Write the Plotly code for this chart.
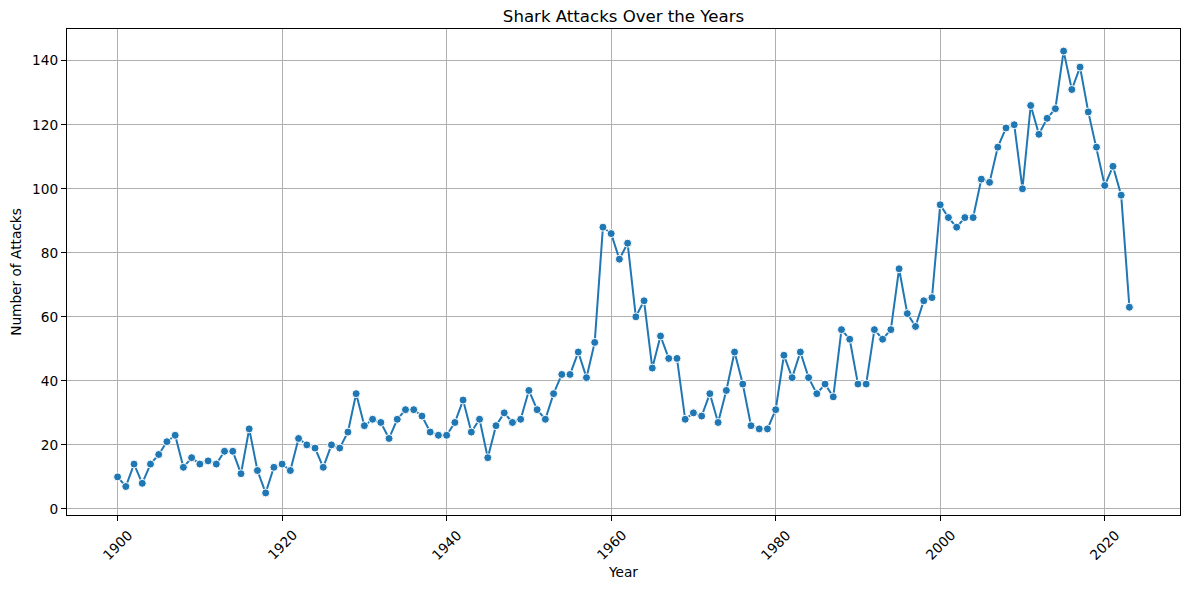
import plotly.graph_objects as go

# yearly shark attack counts
years = list(range(1900, 2024))
attacks = [
    10, 7, 14, 8, 14, 17, 21, 23, 13, 16,      # 1900s
    14, 15, 14, 18, 18, 11, 25, 12, 5, 13,     # 1910s
    14, 12, 22, 20, 19, 13, 20, 19, 24, 36,    # 1920s
    26, 28, 27, 22, 28, 31, 31, 29, 24, 23,    # 1930s
    23, 27, 34, 24, 28, 16, 26, 30, 27, 28,    # 1940s
    37, 31, 28, 36, 42, 42, 49, 41, 52, 88,    # 1950s
    86, 78, 83, 60, 65, 44, 54, 47, 47, 28,    # 1960s
    30, 29, 36, 27, 37, 49, 39, 26, 25, 25,    # 1970s
    31, 48, 41, 49, 41, 36, 39, 35, 56, 53,    # 1980s
    39, 39, 56, 53, 56, 75, 61, 57, 65, 66,    # 1990s
    95, 91, 88, 91, 91, 103, 102, 113, 119, 120,  # 2000s
    100, 126, 117, 122, 125, 143, 131, 138, 124, 113,  # 2010s
    101, 107, 98, 63,                          # 2020s
]
x_ticks = [1900, 1920, 1940, 1960, 1980, 2000, 2020]
y_ticks = [0, 20, 40, 60, 80, 100, 120, 140]

FONT = "DejaVu Sans"
BLUE = "#1f77b4"
TICK_SIZE = 13.7

# the page body adds 8px around the figure, so the figure is 16px smaller than the window
W, H = 1173, 573
L, R, T, B = 59, 1, 21, 66

fig = go.Figure()
fig.add_trace(go.Scatter(
    x=years,
    y=attacks,
    mode="lines+markers",
    line=dict(color=BLUE, width=2),
    marker=dict(symbol="circle", size=8, color=BLUE, line=dict(color="white", width=1)),
    showlegend=False,
))

axis_style = dict(
    showgrid=True,
    gridcolor="#b0b0b0",
    gridwidth=1.1,
    showline=True,
    linecolor="black",
    linewidth=1.1,
    mirror=True,
    ticks="outside",
    ticklen=5,
    tickwidth=1.1,
    tickcolor="black",
    zeroline=False,
    tickfont=dict(family=FONT, size=TICK_SIZE, color="black"),
)

fig.update_xaxes(
    range=[1893.85, 2029.15],
    tickmode="array",
    tickvals=x_ticks,
    showticklabels=False,
    title=dict(text="Year", font=dict(family=FONT, size=TICK_SIZE, color="black"), standoff=47),
    **axis_style,
)
fig.update_yaxes(
    range=[-1.9, 149.9],
    tickmode="array",
    tickvals=y_ticks,
    title=dict(text="Number of Attacks", font=dict(family=FONT, size=TICK_SIZE, color="black"), standoff=8),
    **axis_style,
)

# rotated x tick labels centred on their ticks, as matplotlib does
for t in x_ticks:
    fig.add_annotation(
        x=t, y=0, xref="x", yref="paper",
        text=str(t), showarrow=False, textangle=-45,
        xanchor="center", yanchor="top", yshift=-9,
        font=dict(family=FONT, size=TICK_SIZE, color="black"),
    )

fig.update_layout(
    width=W,
    height=H,
    margin=dict(l=L, r=R, t=T, b=B),
    plot_bgcolor="white",
    paper_bgcolor="white",
    font=dict(family=FONT, size=TICK_SIZE, color="black"),
    title=dict(
        text="Shark Attacks Over the Years",
        font=dict(family=FONT, size=16.6, color="black"),
        x=(L + (W - R)) / 2 / W,
        xanchor="center",
        y=1 - 8 / H,
        yanchor="middle",
    ),
)

fig.write_html("out.html")
